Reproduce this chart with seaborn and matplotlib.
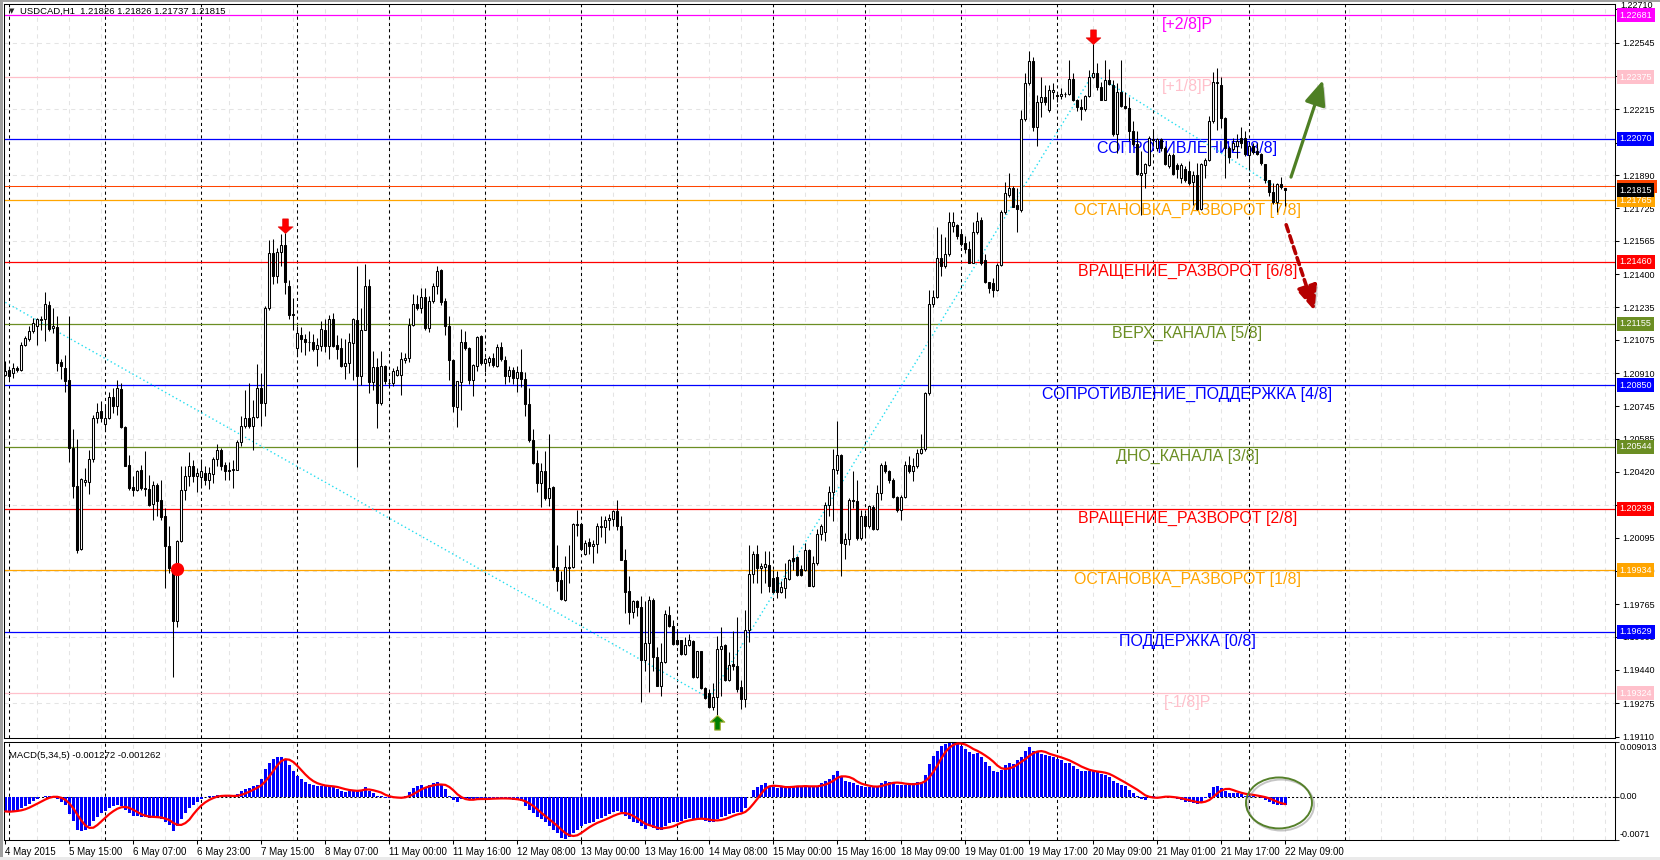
import numpy as np
import pandas as pd
import matplotlib
matplotlib.use("Agg")
import matplotlib.pyplot as plt
import matplotlib.patheffects as pe
import matplotlib.transforms as mtransforms
from matplotlib.path import Path
from matplotlib.patches import Ellipse, Rectangle
import seaborn as sns

# ---------------- DATA (prices in pips = 1e-4) ----------------
open_pips = [
12090.2,12092.7,12091.1,12093.5,12092.7,12105.1,12107.6,12111.7,12114.2,12117.1,
12117.5,12124.9,12113.3,12113.8,12096.3,12093.5,12087.3,12053.9,12034.9,12003.9,
12037.1,12036.9,12048.5,12068.8,12072.1,12066.0,12068.8,12079.2,12074.5,12083.1,
12064.3,12045.7,12034.4,12033.3,12042.8,12034.1,12033.6,12026.3,12035.7,12028.0,
12020.1,12005.5,11994.5,11968.1,12007.7,12033.3,12039.9,12045.2,12040.2,12039.5,
12041.5,12037.9,12041.2,12048.5,12052.7,12045.7,12042.4,12042.8,12043.2,12056.7,
12065.0,12068.8,12064.6,12069.3,12083.6,12076.2,12123.2,12150.2,12138.9,12151.0,
12154.6,12134.0,12120.3,12103.4,12110.0,12107.9,12106.2,12106.4,12102.9,12104.6,
12112.5,12104.3,12117.8,12105.1,12103.4,12094.7,12096.0,12105.9,12117.1,12089.4,
12112.5,12134.3,12086.4,12093.9,12076.2,12094.4,12086.1,12086.1,12090.2,12090.2,
12097.3,12098.5,12115.0,12125.2,12123.2,12128.7,12113.3,12126.6,12134.0,12141.9,
12126.5,12114.5,12097.6,12074.2,12086.4,12106.2,12103.4,12087.4,12094.6,12109.2,
12096.0,12096.3,12098.4,12094.3,12103.9,12097.6,12089.7,12092.3,12088.5,12091.3,
12088.0,12075.8,12057.7,12046.4,12036.5,12042.3,12029.1,12034.5,11995.2,11988.3,
11978.7,11994.4,11994.9,12015.9,12016.4,12001.5,12007.1,12005.5,12006.5,12014.8,
12014.8,12018.4,12018.7,12022.5,12015.4,11998.6,11982.9,11972.5,11977.9,11975.4,
11949.0,11957.3,11978.4,11950.4,11936.2,11947.7,11971.3,11965.9,11958.9,11958.6,
11952.0,11956.5,11958.1,11940.4,11953.2,11935.0,11932.5,11925.6,11930.5,11954.3,
11956.5,11939.1,11947.1,11945.8,11935.5,11929.5,11963.6,11991.6,12001.5,11994.4,
11994.9,11996.1,11989.5,11990.0,11982.4,11984.5,11989.0,11999.4,11999.9,11993.9,
11993.3,12003.2,11985.7,11996.9,12011.4,12012.1,12025.8,12031.9,12043.1,12050.6,
12006.5,12008.8,12028.0,12027.4,12009.3,12020.0,12015.1,12024.7,12013.9,12031.5,
12045.7,12042.4,12038.2,12029.8,12023.1,12029.8,12045.7,12042.4,12044.9,12051.6,
12053.3,12080.9,12125.4,12128.7,12148.0,12143.8,12149.7,12163.9,12164.3,12159.7,
12155.5,12152.5,12145.5,12160.6,12167.0,12147.2,12136.3,12135.4,12132.1,12144.6,
12170.6,12179.0,12182.4,12174.0,12171.5,12216.8,12234.4,12245.3,12212.6,12225.1,
12227.7,12221.0,12230.2,12228.5,12228.0,12229.0,12229.0,12236.4,12226.0,12222.9,
12221.8,12228.0,12237.7,12239.4,12232.7,12226.3,12236.0,12233.5,12209.2,12230.2,
12223.0,12222.3,12210.9,12204.2,12189.1,12189.9,12194.1,12206.7,12202.5,12206.7,
12202.5,12193.3,12198.8,12194.1,12187.7,12192.1,12191.1,12185.4,12188.8,12172.3,
12194.1,12196.6,12215.6,12234.4,12233.5,12217.3,12202.5,12201.7,12203.3,12207.5,
12207.5,12198.8,12203.3,12200.8,12199.5,12194.5,12186.6,12180.7,12175.7,12184.4,
12182.6]

high_pips = [
12096.8,12093.5,12096.0,12094.4,12106.2,12109.2,12114.2,12118.3,12118.3,12119.1,
12131.0,12126.5,12123.2,12119.1,12097.7,12100.1,12119.1,12063.3,12058.4,12039.0,
12044.0,12053.1,12070.4,12076.2,12077.0,12074.5,12081.5,12083.6,12087.4,12086.1,
12064.6,12050.6,12039.9,12043.2,12045.7,12052.3,12040.7,12037.4,12036.6,12038.2,
12024.2,12015.1,11995.3,12008.5,12044.8,12044.8,12051.8,12048.1,12044.0,12048.5,
12044.8,12044.5,12049.4,12056.1,12053.9,12046.8,12046.8,12048.1,12058.0,12069.6,
12082.8,12086.1,12077.8,12095.7,12091.1,12124.4,12157.1,12157.4,12153.0,12159.6,
12160.4,12137.0,12128.2,12114.2,12113.8,12110.5,12111.7,12110.5,12108.4,12116.6,
12117.5,12119.5,12120.8,12110.0,12108.4,12107.6,12110.9,12118.3,12144.2,12123.2,
12145.0,12137.6,12101.8,12098.5,12101.8,12095.0,12087.8,12093.5,12094.4,12101.3,
12101.0,12118.3,12130.3,12129.4,12133.2,12133.2,12129.0,12135.6,12143.9,12142.5,
12128.2,12119.1,12098.0,12087.2,12112.8,12111.7,12103.7,12095.5,12109.5,12110.0,
12098.9,12099.3,12100.9,12105.5,12106.2,12099.3,12094.3,12094.0,12094.3,12102.9,
12091.3,12083.6,12063.3,12052.7,12046.4,12052.2,12061.0,12034.9,12006.0,11992.8,
12000.5,12006.0,12016.7,12023.3,12016.7,12008.5,12009.3,12008.5,12016.7,12020.0,
12020.0,12021.3,12023.0,12028.3,12020.0,12003.8,11990.3,11978.7,11978.7,11980.4,
11977.9,11980.4,11979.6,11955.6,11957.3,11973.8,11975.8,11968.5,11963.1,11958.9,
11960.3,11961.9,11958.9,11953.6,11953.6,11935.5,11934.5,11937.5,11960.6,11965.2,
11957.0,11952.7,11963.1,11970.2,11939.1,11973.8,12006.0,12002.7,12006.0,11996.9,
12002.7,12002.7,11993.6,11992.8,11987.8,11996.9,11998.9,12006.0,12000.5,11996.1,
12006.8,12003.8,12000.2,12013.8,12016.4,12027.0,12034.9,12053.4,12067.1,12051.0,
12011.8,12029.1,12042.3,12038.2,12023.3,12021.5,12025.8,12025.6,12035.6,12046.5,
12047.4,12043.2,12039.0,12030.1,12030.6,12047.4,12049.9,12049.1,12053.3,12060.8,
12081.8,12132.1,12132.1,12163.1,12159.7,12158.1,12170.6,12170.6,12164.8,12161.4,
12158.9,12156.4,12165.6,12170.6,12168.1,12149.7,12136.3,12137.9,12145.5,12171.5,
12185.7,12189.9,12183.7,12182.4,12221.0,12239.4,12250.3,12247.4,12228.5,12237.7,
12233.5,12233.5,12234.4,12230.2,12231.9,12230.2,12245.8,12239.4,12226.8,12226.8,
12228.5,12241.1,12253.7,12244.4,12235.2,12246.1,12241.4,12236.0,12234.4,12246.1,
12230.2,12227.7,12215.9,12210.9,12200.8,12195.0,12208.4,12210.9,12207.2,12207.5,
12203.3,12200.0,12200.0,12195.0,12195.0,12193.3,12195.8,12190.8,12195.0,12195.0,
12197.5,12218.4,12240.2,12241.9,12237.7,12217.6,12203.3,12207.5,12209.2,12212.6,
12210.9,12204.2,12205.0,12205.0,12200.0,12194.5,12186.6,12184.9,12184.9,12188.2,
12182.6]

low_pips = [
12089.4,12088.1,12088.6,12091.4,12091.9,12104.3,12106.7,12110.9,12105.1,12112.5,
12106.7,12111.7,12110.9,12091.9,12088.1,12081.5,12046.8,12029.1,12001.9,12003.2,
12034.9,12031.3,12046.8,12066.3,12066.6,12062.2,12068.3,12071.2,12070.4,12063.8,
12044.8,12033.3,12030.0,12032.4,12033.3,12030.0,12025.3,12018.4,12020.4,12018.1,
11984.6,11992.0,11940.5,11965.2,12007.2,12028.3,12034.9,12036.9,12031.9,12034.9,
12035.7,12033.6,12036.6,12044.8,12043.2,12038.2,12038.2,12034.1,12042.8,12054.7,
12063.8,12063.8,12053.1,12068.8,12064.6,12069.6,12122.4,12135.3,12135.6,12143.9,
12129.9,12117.5,12112.5,12099.3,12101.3,12100.1,12101.8,12101.8,12094.4,12101.8,
12101.3,12097.7,12103.9,12097.7,12094.0,12088.1,12091.1,12087.4,12044.5,12085.3,
12112.2,12081.1,12082.8,12063.8,12075.4,12085.8,12084.4,12084.8,12089.4,12080.3,
12096.0,12096.3,12114.5,12122.4,12120.8,12112.5,12111.2,12125.7,12129.9,12124.9,
12110.0,12087.7,12071.5,12064.3,12072.8,12102.6,12085.7,12079.5,12091.8,12095.1,
12091.3,12094.3,12094.0,12094.0,12096.8,12085.7,12086.4,12085.7,12081.4,12084.1,
12069.9,12056.7,12046.1,12031.9,12024.6,12027.9,12025.0,11993.6,11982.9,11978.7,
11977.9,11987.0,11994.4,12010.1,12003.5,12001.0,12001.5,11996.9,12001.9,12009.8,
12006.8,12013.4,12015.1,12013.4,11998.2,11972.1,11966.9,11969.7,11970.5,11927.9,
11943.7,11933.3,11943.7,11935.8,11930.9,11947.4,11965.5,11956.5,11956.5,11951.5,
11951.5,11956.0,11940.1,11939.9,11934.5,11929.5,11925.1,11924.3,11921.8,11931.2,
11938.3,11938.3,11944.1,11933.3,11924.6,11925.6,11957.6,11987.0,11987.0,11982.1,
11987.0,11982.4,11982.1,11979.6,11982.1,11979.6,11988.7,11993.6,11990.6,11990.3,
11992.8,11985.4,11985.0,11996.1,12008.5,12007.6,12020.0,12017.6,12041.0,11990.6,
11998.9,12006.0,12024.2,12008.5,12008.1,12009.8,12014.3,12013.4,12013.4,12028.1,
12041.5,12036.5,12028.9,12022.2,12018.0,12028.9,12041.5,12037.3,12044.0,12050.7,
12052.4,12080.1,12123.7,12127.9,12138.8,12143.0,12148.8,12160.6,12157.2,12153.9,
12150.5,12145.5,12145.5,12159.7,12144.6,12135.4,12130.4,12128.7,12131.7,12143.8,
12169.8,12178.2,12173.2,12160.9,12170.6,12215.9,12233.5,12210.9,12203.3,12217.6,
12223.5,12220.1,12226.8,12225.1,12226.8,12227.7,12228.5,12225.6,12220.9,12216.3,
12220.9,12227.7,12236.9,12231.3,12226.0,12226.0,12233.5,12208.4,12200.0,12222.6,
12221.8,12205.9,12203.3,12189.1,12169.0,12182.4,12193.3,12203.3,12200.8,12200.8,
12194.1,12192.4,12188.8,12187.4,12184.9,12185.7,12184.1,12174.0,12171.5,12171.5,
12187.4,12195.8,12214.6,12211.2,12212.2,12187.4,12195.0,12200.8,12197.5,12202.2,
12198.3,12191.6,12199.5,12198.8,12194.1,12184.9,12178.7,12174.8,12170.6,12182.0,
12173.7]

close_pips = [
12091.9,12089.4,12093.5,12092.4,12105.1,12108.4,12111.7,12115.8,12117.5,12117.8,
12125.2,12112.8,12114.2,12096.0,12094.4,12086.9,12053.9,12034.9,12003.6,12038.6,
12038.2,12048.5,12068.8,12071.6,12068.8,12068.8,12079.2,12074.9,12083.6,12064.3,
12045.2,12034.1,12033.3,12042.4,12034.1,12033.6,12025.8,12035.7,12027.5,12019.7,
12005.2,11994.5,11968.1,12007.7,12033.3,12040.2,12045.2,12040.2,12041.5,12042.4,
12038.2,12041.5,12048.5,12052.7,12045.2,12042.4,12043.2,12043.5,12056.7,12065.0,
12068.8,12064.6,12069.3,12083.6,12076.2,12123.2,12150.2,12138.9,12151.0,12154.6,
12136.1,12119.9,12119.6,12110.9,12107.9,12106.2,12106.6,12102.9,12105.1,12112.8,
12104.3,12117.8,12104.6,12102.9,12094.4,12096.0,12106.2,12117.5,12089.4,12112.5,
12134.3,12086.4,12093.9,12076.2,12094.4,12086.9,12086.3,12091.9,12092.7,12097.7,
12098.5,12115.0,12125.2,12123.2,12128.7,12113.3,12126.9,12134.0,12141.7,12126.0,
12114.5,12097.3,12074.5,12086.9,12106.2,12103.4,12087.4,12095.1,12108.8,12096.0,
12097.9,12098.4,12095.1,12103.9,12097.9,12089.7,12092.3,12088.5,12091.3,12088.0,
12075.8,12057.7,12046.4,12036.5,12042.3,12029.1,12034.1,11995.2,11987.8,11979.1,
11994.9,11994.9,12016.4,12016.4,12003.8,12006.8,12005.5,12006.5,12015.1,12015.1,
12018.4,12019.2,12022.5,12015.1,11998.6,11982.4,11972.5,11977.9,11975.1,11949.0,
11957.3,11978.4,11950.4,11936.2,11947.7,11971.8,11965.9,11957.0,11957.0,11952.0,
11956.5,11958.6,11940.4,11953.2,11935.0,11930.0,11925.6,11930.5,11954.3,11956.0,
11939.1,11946.6,11945.8,11934.5,11929.5,11963.6,11991.6,12001.5,11994.4,11995.3,
11996.6,11985.4,11982.4,11982.4,11985.0,11989.5,11998.2,11997.7,11991.1,11991.1,
12003.2,11985.7,11996.9,12011.4,12015.4,12025.8,12031.9,12043.5,12050.6,12006.8,
12008.8,12028.0,12027.4,12009.3,12020.0,12015.1,12025.0,12013.9,12031.5,12045.7,
12042.4,12038.2,12029.8,12023.1,12029.8,12045.7,12042.4,12044.9,12051.6,12053.3,
12080.9,12125.4,12128.7,12148.0,12143.8,12149.7,12165.6,12165.6,12158.6,12154.7,
12152.2,12145.5,12160.6,12166.5,12145.5,12136.3,12132.9,12132.1,12144.6,12170.6,
12179.9,12182.4,12173.2,12172.3,12216.8,12234.7,12245.3,12212.6,12225.1,12227.7,
12225.1,12231.3,12231.3,12228.0,12229.3,12229.3,12236.4,12226.0,12222.6,12221.8,
12228.0,12237.7,12239.4,12232.4,12226.3,12236.0,12234.0,12209.2,12230.2,12223.0,
12222.3,12210.9,12204.2,12189.4,12189.9,12194.5,12207.2,12206.2,12206.7,12202.5,
12194.5,12198.8,12189.4,12192.1,12194.1,12186.6,12184.9,12188.8,12172.3,12194.5,
12196.6,12215.6,12235.2,12235.2,12217.3,12202.5,12197.8,12205.0,12205.9,12205.0,
12199.2,12203.3,12200.5,12199.5,12195.0,12186.6,12180.7,12175.7,12184.4,12183.0,
12181.5]

# MACD(5,34,5) main line, in units of 1e-4
macd_e4 = [
-24,-25,-23,-21,-18,-15,-12,-7,-4,-1,
2,2,1,-4,-9,-14,-28,-40,-55,-57,
-55,-48,-39,-33,-27,-24,-19,-15,-13,-15,
-21,-27,-31,-31,-33,-33,-35,-33,-33,-36,
-42,-47,-57,-48,-37,-27,-19,-13,-9,-3,
-1,1,2,3,2,1,1,0,4,10,
13,15,17,20,30,45,56,62,66,65,
60,52,43,35,29,25,21,19,18,18,
17,17,16,13,9,8,10,12,10,12,
16,10,6,1,2,-2,-2,-2,-2,0,
2,8,14,18,19,16,19,22,25,19,
13,2,-5,-8,-4,-3,-4,-5,-3,-3,
-3,-3,-3,-2,-2,-3,-4,-5,-6,-7,
-15,-21,-27,-33,-36,-41,-48,-54,-60,-67,
-69,-66,-60,-54,-48,-45,-43,-41,-37,-35,
-31,-29,-25,-24,-25,-31,-37,-41,-43,-48,
-53,-48,-51,-55,-54,-48,-43,-42,-41,-39,
-37,-35,-36,-35,-37,-39,-41,-41,-36,-33,
-31,-29,-27,-25,-25,-18,-1,11,16,19,
22,18,16,14,16,16,18,18,18,16,
18,16,18,18,22,26,30,36,42,34,
26,24,22,19,18,16,16,16,18,22,
26,25,24,20,19,20,22,22,24,25,
36,54,67,76,84,87,90,90,87,84,
79,73,70,72,66,58,50,43,40,44,
52,55,54,60,66,75,82,76,73,70,
68,67,66,63,60,56,55,50,46,42,
42,42,42,40,38,36,32,26,22,19,
18,12,7,2,-4,-5,0,1,0,0,
0,0,-2,-4,-6,-8,-8,-10,-12,-8,
-2,6,16,18,14,10,7,6,6,4,
2,2,2,0,-2,-5,-8,-12,-14,-13.5,
-12.72]

level_prices = [1.22681, 1.22375, 1.22070, 1.21765, 1.21460, 1.21155,
                1.20850, 1.20544, 1.20239, 1.19934, 1.19629, 1.19324]
level_names = ["[+2/8]P", "[+1/8]P", "СОПРОТИВЛЕНИЕ [8/8]", "ОСТАНОВКА_РАЗВОРОТ [7/8]",
               "ВРАЩЕНИЕ_РАЗВОРОТ [6/8]", "ВЕРХ_КАНАЛА [5/8]", "СОПРОТИВЛЕНИЕ_ПОДДЕРЖКА [4/8]",
               "ДНО_КАНАЛА [3/8]", "ВРАЩЕНИЕ_РАЗВОРОТ [2/8]", "ОСТАНОВКА_РАЗВОРОТ [1/8]",
               "ПОДДЕРЖКА [0/8]", "[-1/8]P"]
level_colors = ["#FF00FF", "#FFC0CB", "#0000FF", "#FFA500", "#FF0000", "#6B8E23",
                "#0000FF", "#6B8E23", "#FF0000", "#FFA500", "#0000FF", "#FFC0CB"]
ask_price = 1.21835
bid_price = 1.21815

price_tick_labels = ["1.22710", "1.22545", "1.22380", "1.22215", "1.22050", "1.21890",
                     "1.21725", "1.21565", "1.21400", "1.21235", "1.21075", "1.20910",
                     "1.20745", "1.20585", "1.20420", "1.20255", "1.20095", "1.19930",
                     "1.19765", "1.19605", "1.19440", "1.19275", "1.19110"]
# tick labels that sit completely under a level price box in the reference
covered_tick_labels = ["1.22380", "1.22050"]
macd_tick_values = [0.009013, 0.0, -0.0071]
macd_tick_labels = ["0.009013", "0.00", "-0.0071"]
macd_header_values = [-0.001272, -0.001262]

time_labels = ["4 May 2015", "5 May 15:00", "6 May 07:00", "6 May 23:00", "7 May 15:00",
               "8 May 07:00", "11 May 00:00", "11 May 16:00", "12 May 08:00", "13 May 00:00",
               "13 May 16:00", "14 May 08:00", "15 May 00:00", "15 May 16:00", "18 May 09:00",
               "19 May 01:00", "19 May 17:00", "20 May 09:00", "21 May 01:00", "21 May 17:00",
               "22 May 09:00"]
time_label_bars = list(range(0, 321, 16))
day_separator_bars = [1, 25, 49, 73, 96, 120, 144, 168, 192, 215, 239, 263, 287, 311, 335]

zigzag_bars = [0, 176, 272, 317]
zigzag_prices = [1.21260, 1.19300, 1.22394, 1.21838]
sell_signal_bars = [70, 272]
buy_signal_bars = [178]
dot_bars = [43]
dot_prices = [1.19940]
up_forecast_bars = [321.4, 329.4]
up_forecast_prices = [1.21880, 1.22360]
down_forecast_bars = [320.2, 327.3]
down_forecast_prices = [1.21644, 1.21218]
circle_center = (318.4, -0.00101)
circle_size = (16.5, 0.00838)

n = len(close_pips)
for name, arr in [("open", open_pips), ("high", high_pips), ("low", low_pips), ("macd", macd_e4)]:
    if len(arr) != n:
        raise ValueError(f"{name} has {len(arr)} values, close has {n}")

# ---------------- FIGURE ----------------
sns.set_theme(style="white")
plt.rcParams['font.family'] = ['Liberation Sans', 'DejaVu Sans']
plt.rcParams['axes.unicode_minus'] = False

W, H = 1660, 860
fig = plt.figure(figsize=(W / 100, H / 100), dpi=100, facecolor='white')
LX, RX = 4, 1615
ax = fig.add_axes([LX / W, 1 - 738 / H, (RX - LX) / W, (738 - 4) / H])
ax2 = fig.add_axes([LX / W, 1 - 840 / H, (RX - LX) / W, (840 - 742) / H], sharex=ax)
for a in (ax, ax2):
    a.set_facecolor('white')
    for s in a.spines.values():
        s.set_visible(True)
        s.set_color('black')
        s.set_linewidth(0.75)

idx = np.arange(n)
o = np.asarray(open_pips) / 1e4
h = np.asarray(high_pips) / 1e4
l = np.asarray(low_pips) / 1e4
c = np.asarray(close_pips) / 1e4
macd = np.asarray(macd_e4, dtype=float) / 1e4

ax.set_xlim(-0.33, 402.4)
ax.set_ylim(1.19103, 1.22737)
ax2.set_ylim(-0.0071, 0.009013)

price_tick_values = [float(t) for t in price_tick_labels]

# grid + period separators
for a in (ax, ax2):
    for gb in range(8, 403, 8):
        a.axvline(gb, color='#E4E4E4', lw=0.75, ls=(0, (4, 4)), zorder=0.5)
    for sb in day_separator_bars:
        a.axvline(sb, color='black', lw=0.75, ls=(0, (3, 3)), zorder=1)
for pv in price_tick_values[1::2]:
    ax.axhline(pv, color='#E4E4E4', lw=0.75, ls=(0, (4, 4)), zorder=0.5)

# Murrey levels
label_bar = 295.5
for p, name, col in zip(level_prices, level_names, level_colors):
    ax.axhline(p, color=col, lw=0.9, zorder=1.5)
    ax.annotate(name, xy=(label_bar, p), xytext=(0, -1.5), textcoords='offset points',
                ha='center', va='top', fontsize=11.5, color=col, zorder=2)
ax.axhline(ask_price, color='#FF4500', lw=0.75, zorder=1.5)

# zigzag
sns.lineplot(x=zigzag_bars, y=zigzag_prices, ax=ax, color='#22DDF0', lw=1.0,
             linestyle=(0, (1, 2)), zorder=2.5)

# candles
up = c >= o
ax.vlines(idx, l, h, color='black', lw=0.75, zorder=3)
ax.bar(idx[up], (c - o)[up], bottom=o[up], width=0.5, color='white',
       edgecolor='black', linewidth=0.75, zorder=4)
ax.bar(idx[~up], (o - c)[~up], bottom=c[~up], width=0.5, color='black',
       edgecolor='black', linewidth=0.75, zorder=4)

# signal arrows
dv = [(0, 0), (1.1, 1.0), (0.42, 1.0), (0.42, 2.2), (-0.42, 2.2), (-0.42, 1.0), (-1.1, 1.0), (0, 0)]
down_arrow = Path(dv, closed=True)
up_arrow = Path([(x, -y) for x, y in dv], closed=True)
ax.plot(sell_signal_bars, h[sell_signal_bars], ls='none', marker=down_arrow, ms=21,
        color='#FF0000', mec='#E00000', mew=0.5, zorder=7)
ax.plot(buy_signal_bars, l[buy_signal_bars], ls='none', marker=up_arrow, ms=21,
        color='#008000', mec='#A0B030', mew=0.8, zorder=7)
ax.plot(dot_bars, dot_prices, ls='none', marker='o', ms=8.5, color='#FF0000', zorder=7)

# forecast arrows
g = ax.annotate('', xy=(up_forecast_bars[1], up_forecast_prices[1]),
                xytext=(up_forecast_bars[0], up_forecast_prices[0]),
                arrowprops=dict(arrowstyle='-|>,head_width=0.32,head_length=0.75',
                                color='#4E7F24', lw=2.3, mutation_scale=20, shrinkA=0, shrinkB=0),
                annotation_clip=False, zorder=8)
g.arrow_patch.set_path_effects([pe.SimplePatchShadow(offset=(2, -2), shadow_rgbFace='gray', alpha=0.35), pe.Normal()])
r = ax.annotate('', xy=(down_forecast_bars[1], down_forecast_prices[1]),
                xytext=(down_forecast_bars[0], down_forecast_prices[0]),
                arrowprops=dict(arrowstyle='-|>,head_width=0.32,head_length=0.75',
                                color='#B50000', lw=2.6, ls=(0, (2.0, 1.2)), mutation_scale=20,
                                shrinkA=0, shrinkB=0),
                annotation_clip=False, zorder=8)
r.arrow_patch.set_path_effects([pe.SimplePatchShadow(offset=(2, -2), shadow_rgbFace='gray', alpha=0.35), pe.Normal()])

# right price axis: ticks + labels (top label drawn separately, lifted above the first box)
ax.yaxis.tick_right()
ax.set_yticks(price_tick_values)
shown = ['' if (t in covered_tick_labels or i == 0) else t for i, t in enumerate(price_tick_labels)]
ax.set_yticklabels(shown)
ax.tick_params(axis='y', which='both', right=True, left=False, labelright=True, labelleft=False,
               length=3, width=0.75, labelsize=6.5, pad=2, colors='black')
ax.tick_params(axis='x', bottom=False, labelbottom=False)
ax.annotate(price_tick_labels[0], xy=(1, price_tick_values[0]), xycoords=('axes fraction', 'data'),
            xytext=(3.6, -0.5), textcoords='offset points', ha='left', va='bottom',
            fontsize=6.5, color='black', annotation_clip=False)


def price_box(p, fc, z):
    ax.annotate(f"{p:.5f}", xy=(1, p), xycoords=('axes fraction', 'data'), xytext=(3.2, 0),
                textcoords='offset points', ha='left', va='center', fontsize=6.5, color='white',
                bbox=dict(boxstyle='square,pad=0.28', fc=fc, ec='none'),
                annotation_clip=False, zorder=z)


for p, col in zip(level_prices, level_colors):
    price_box(p, col, 10)

# ask-line marker box (mostly hidden behind the bid box, as in the reference)
ax_h_px = (738 - 4)
px_per_unit = ax_h_px / (ax.get_ylim()[1] - ax.get_ylim()[0])
trans_box = mtransforms.blended_transform_factory(fig.transFigure, ax.transData)
ax.add_patch(Rectangle((1617 / W, ask_price - 6.5 / px_per_unit), 40 / W, 13 / px_per_unit,
                       transform=trans_box, fc='#FF4500', ec='none', clip_on=False, zorder=9))
price_box(bid_price, 'black', 11)

# MACD panel
ax2.bar(idx, macd, width=0.72, color='#0000FF', linewidth=0, zorder=2)
signal = pd.Series(macd).rolling(5, min_periods=1).mean().values
sns.lineplot(x=idx, y=signal, ax=ax2, color='#FF0000', lw=1.6, zorder=3)
ax2.axhline(0, color='black', lw=0.75, ls=(0, (2, 2)), zorder=1.2)
ell = Ellipse(circle_center, circle_size[0], circle_size[1], fill=False, ec='#55802A', lw=1.4, zorder=6)
ell.set_path_effects([pe.SimpleLineShadow(offset=(1.5, -1.5), shadow_color='gray', alpha=0.45), pe.Normal()])
ax2.add_patch(ell)

ax2.yaxis.tick_right()
ax2.set_yticks(macd_tick_values)
ax2.set_yticklabels([])
ax2.tick_params(axis='y', right=True, left=False, length=3, width=0.75)
for v, t, va, dy in zip(macd_tick_values, macd_tick_labels, ['top', 'center', 'bottom'], [-1, 0, 1]):
    ax2.annotate(t, xy=(1, v), xycoords=('axes fraction', 'data'), xytext=(3.2, dy),
                 textcoords='offset points', ha='left', va=va, fontsize=6.5, color='black',
                 annotation_clip=False)

ax2.set_xticks(time_label_bars)
ax2.set_xticklabels(time_labels, ha='left', fontsize=7)
ax2.tick_params(axis='x', bottom=True, labelbottom=True, length=3, width=0.75, pad=2, colors='black')
ax2.set_xlabel('')
ax2.set_ylabel('')
ax.set_xlabel('')
ax.set_ylabel('')

# headers
fig.text(9 / W, 1 - 11 / H, '▼', fontsize=5, family='DejaVu Sans', va='center', ha='left')
fig.text(20 / W, 1 - 11 / H,
         f"USDCAD,H1  {o[-1]:.5f} {h[-1]:.5f} {l[-1]:.5f} {c[-1]:.5f}",
         fontsize=6.8, va='center', ha='left', color='black')
fig.text(9 / W, 1 - 755 / H,
         f"MACD(5,34,5) {macd_header_values[0]:.6f} {macd_header_values[1]:.6f}",
         fontsize=6.8, va='center', ha='left', color='black')

# window frame
fig.add_artist(Rectangle((0, 0), 2.5 / W, 1, transform=fig.transFigure, color='#A0A0A0', lw=0))
fig.add_artist(Rectangle((0, 1 - 1.5 / H), 1, 1.5 / H, transform=fig.transFigure, color='#A0A0A0', lw=0))
fig.add_artist(Rectangle((0, 0), 1, 3 / H, transform=fig.transFigure, color='#EAEAEA', lw=0))

fig.savefig("out.png", dpi=100, facecolor='white')
